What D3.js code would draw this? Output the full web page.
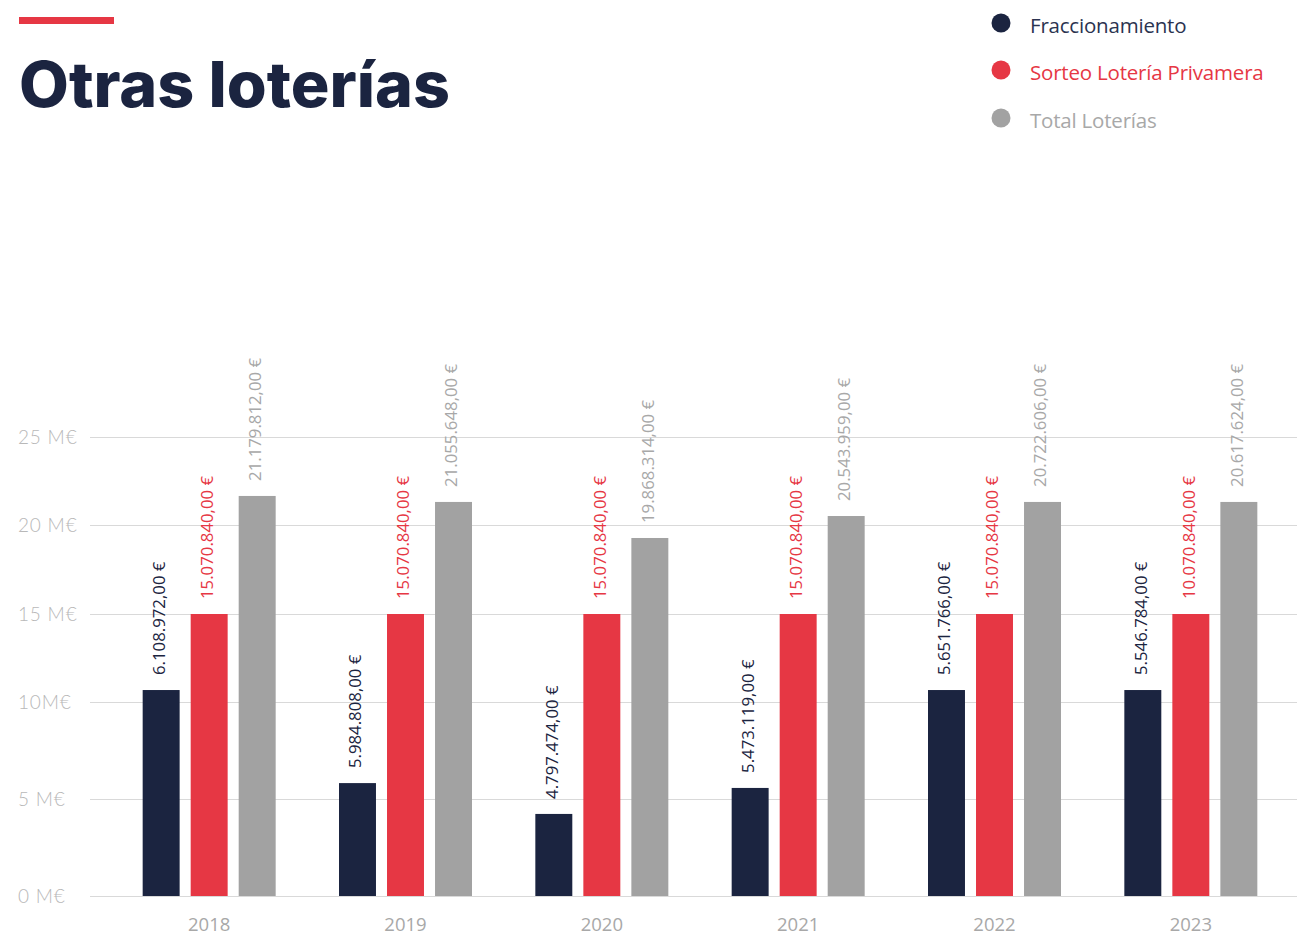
<!DOCTYPE html>
<html>
<head>
  <meta charset="utf-8">
  <title>Otras loterías</title>
  <style>
  body { margin: 0; background: #fff; }
  svg { display: block; }
  .grid line { stroke: #d9d9d9; stroke-width: 1; }
  .grid path { display: none; }
  </style>
</head>
<body>
  <svg width="1297" height="936"></svg>
  <script src="https://d3js.org/d3.v7.min.js"></script>
  <script>
  // datos
  var years = ["2018", "2019", "2020", "2021", "2022", "2023"];
  var seriesNames = ["Fraccionamiento", "Sorteo Lotería Privamera", "Total Loterías"];
  var seriesColors = ["#1b2440", "#e63744", "#a2a2a2"];
  var labelColors = ["#1b2440", "#e63744", "#a8a8a8"];
  var legendColors = ["#2b3350", "#e63744", "#a8a8a8"];

  // altura de las barras tal como se ven (M€)
  var fraccionamiento = [10.68, 5.82, 4.23, 5.57, 10.68, 10.68];
  var sorteo = [15, 15, 15, 15, 15, 15];
  var total = [21.65, 21.31, 19.27, 20.51, 21.31, 21.31];

  // textos de las etiquetas
  var fraccLabels = ["6.108.972,00 €", "5.984.808,00 €", "4.797.474,00 €", "5.473.119,00 €", "5.651.766,00 €", "5.546.784,00 €"];
  var sorteoLabels = ["15.070.840,00 €", "15.070.840,00 €", "15.070.840,00 €", "15.070.840,00 €", "15.070.840,00 €", "10.070.840,00 €"];
  var totalLabels = ["21.179.812,00 €", "21.055.648,00 €", "19.868.314,00 €", "20.543.959,00 €", "20.722.606,00 €", "20.617.624,00 €"];

  var yTicks = [0, 5, 10, 15, 20, 25];
  var yTickLabels = ["0 M€", "5 M€", "10M€", "15 M€", "20 M€", "25 M€"];

  var svg = d3.select("svg");

  // eje y (las líneas de la rejilla no están a la misma distancia)
  var y = d3.scaleLinear()
    .domain(yTicks)
    .range([896, 799, 702, 614, 525, 437]);

  var x0 = d3.scaleBand()
    .domain(years)
    .range([111, 1289]);

  var x1 = d3.scaleBand()
    .domain(d3.range(3))
    .range([0, 133])
    .paddingInner(0.23);

  var values = [fraccionamiento, sorteo, total];
  var labels = [fraccLabels, sorteoLabels, totalLabels];

  // rejilla
  svg.append("g")
    .attr("class", "grid")
    .attr("transform", "translate(90,0)")
    .call(d3.axisLeft(y).tickValues(yTicks).tickSize(0).tickFormat(""))
    .selectAll(".tick line")
    .attr("x1", 0).attr("x2", 1207);

  // etiquetas eje y
  svg.append("g").selectAll("text")
    .data(yTicks)
    .enter().append("text")
    .attr("x", 18)
    .attr("y", function(d) { return y(d); })
    .attr("dy", "0.35em")
    .attr("fill", "#b8b8b8")
    .attr("font-family", "Lato, 'Open Sans', sans-serif")
    .attr("font-weight", 300)
    .attr("font-size", 19)
    .attr("letter-spacing", 0.8)
    .text(function(d, i) { return yTickLabels[i]; });

  // eje x
  svg.append("g").selectAll("text")
    .data(years)
    .enter().append("text")
    .attr("x", function(d) { return x0(d) + x0.bandwidth() / 2; })
    .attr("y", 931)
    .attr("text-anchor", "middle")
    .attr("fill", "#a8a8a8")
    .attr("font-family", "'Open Sans', sans-serif")
    .attr("font-size", 18.5)
    .text(function(d) { return d; });

  // barras
  var groups = svg.append("g").selectAll("g")
    .data(years)
    .enter().append("g")
    .attr("transform", function(d) { return "translate(" + (x0(d) + (x0.bandwidth() - 133) / 2) + ",0)"; });

  groups.selectAll("rect")
    .data(function(d, yi) { return values.map(function(s, si) { return {s: si, v: s[yi]}; }); })
    .enter().append("rect")
    .attr("x", function(d) { return x1(d.s); })
    .attr("width", x1.bandwidth())
    .attr("y", function(d) { return y(d.v); })
    .attr("height", function(d) { return y(0) - y(d.v); })
    .attr("fill", function(d) { return seriesColors[d.s]; });

  groups.selectAll("text")
    .data(function(d, yi) { return values.map(function(s, si) { return {s: si, v: s[yi], t: labels[si][yi]}; }); })
    .enter().append("text")
    .attr("transform", function(d) {
      return "translate(" + (x1(d.s) + x1.bandwidth() / 2 - 2) + "," + (y(d.v) - 15) + ") rotate(-90)";
    })
    .attr("dy", "0.35em")
    .attr("fill", function(d) { return labelColors[d.s]; })
    .attr("font-family", "'Open Sans', sans-serif")
    .attr("font-size", 16.8)
    .text(function(d) { return d.t; });

  // título
  svg.append("rect")
    .attr("x", 19).attr("y", 17).attr("width", 95).attr("height", 7)
    .attr("fill", "#e63744");

  svg.append("text")
    .attr("x", 19)
    .attr("y", 107)
    .attr("fill", "#1b2440")
    .attr("font-family", "Inter, sans-serif")
    .attr("font-weight", 800)
    .attr("font-size", 63)
    .attr("textLength", 431)
    .attr("lengthAdjust", "spacingAndGlyphs")
    .text("Otras loterías");

  // leyenda
  var legend = svg.append("g").selectAll("g")
    .data(seriesNames)
    .enter().append("g")
    .attr("transform", function(d, i) { return "translate(1001," + [23, 70, 118][i] + ")"; });

  legend.append("circle")
    .attr("r", 9.5)
    .attr("fill", function(d, i) { return seriesColors[i]; });

  legend.append("text")
    .attr("x", 29)
    .attr("y", 3)
    .attr("dy", "0.35em")
    .attr("fill", function(d, i) { return legendColors[i]; })
    .attr("font-family", "'Open Sans', sans-serif")
    .attr("font-size", 20.5)
    .attr("letter-spacing", -0.2)
    .text(function(d) { return d; });
  </script>
</body>
</html>
